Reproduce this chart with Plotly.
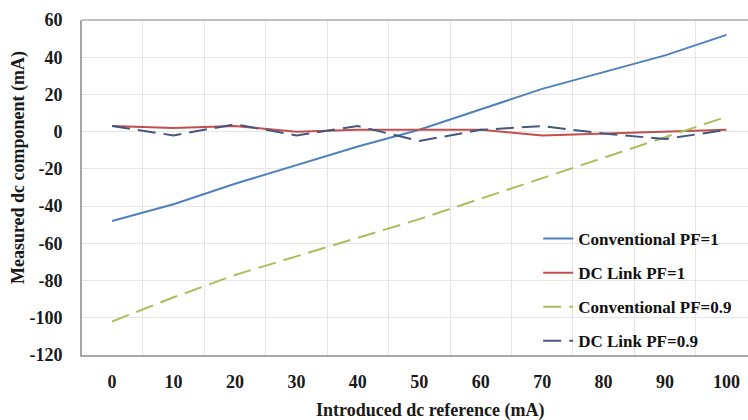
import plotly.graph_objects as go

# Introduced dc reference (mA)
x_ref = [0, 10, 20, 30, 40, 50, 60, 70, 80, 90, 100]
y_ticks = [-120, -100, -80, -60, -40, -20, 0, 20, 40, 60]

# Measured dc component (mA) for each configuration
conv_pf1 = [-48, -39, -28, -18, -8, 1, 12, 23, 32, 41, 52]
dclink_pf1 = [3, 2, 3, 0, 1, 1, 1, -2, -1, 0, 1]
conv_pf09 = [-102, -89, -77, -67, -57, -47, -36, -25, -14, -3, 8]
dclink_pf09 = [3, -2, 4, -2, 3, -5, 1, 3, -1, -4, 1]

series_names = ["Conventional PF=1", "DC Link PF=1", "Conventional PF=0.9", "DC Link PF=0.9"]
series_values = [conv_pf1, dclink_pf1, conv_pf09, dclink_pf09]
series_colors = ["#4F81BD", "#C0504D", "#A8BF5C", "#45577F"]
series_dash = ["solid", "solid", "dash", "dash"]

x_title = "Introduced dc reference (mA)"
y_title = "Measured dc component (mA)"

font_family = "Liberation Serif"
text_color = "#1A1A1A"

fig = go.Figure()
for i, (name, vals, col, dash) in enumerate(zip(series_names, series_values, series_colors, series_dash)):
    fig.add_trace(go.Scatter(
        x=x_ref, y=vals, name=name, mode="lines",
        legendgroup=f"g{i}",
        line=dict(color=col, width=2, dash=dash if dash == "solid" else "18px,8px"),
    ))

tick_font = dict(family=font_family, size=18, color=text_color, weight="bold")
title_font = dict(family=font_family, size=18, color=text_color, weight="bold")

fig.update_layout(
    width=748, height=420,
    margin=dict(l=82, r=0, t=20, b=65),
    paper_bgcolor="white", plot_bgcolor="white",
    font=dict(family=font_family, size=18, color=text_color),
    showlegend=True,
    legend=dict(
        x=0.685, y=0.40, xanchor="left", yanchor="top",
        bgcolor="rgba(0,0,0,0)",
        font=dict(family=font_family, size=17, color="#111111", weight="bold"),
        tracegroupgap=9, itemwidth=30,
    ),
    xaxis=dict(
        range=[-4.9, 103.5],
        tickmode="array", tickvals=x_ref, ticktext=[f"<b>{v}</b>" for v in x_ref],
        showgrid=False, zeroline=False,
        showline=True, linecolor="#A6A6A6", linewidth=2,
        ticks="", ticklabelstandoff=9,
        tickfont=tick_font,
        minor=dict(tickmode="linear", tick0=5, dtick=10, showgrid=True,
                   gridcolor="#E6E6E6", gridwidth=1, ticks=""),
    ),
    yaxis=dict(
        range=[-120, 60],
        tickmode="array", tickvals=y_ticks, ticktext=[f"<b>{v}</b>" for v in y_ticks],
        showgrid=True, gridcolor="#E6E6E6", gridwidth=1, zeroline=False,
        showline=True, linecolor="#A6A6A6", linewidth=2, mirror=False,
        ticks="", ticklabelstandoff=14,
        tickfont=tick_font,
    ),
)

# Axis titles
fig.add_annotation(text=x_title, xref="paper", yref="paper", x=0.5225, y=0,
                   yshift=-55, xanchor="center", yanchor="middle",
                   showarrow=False, font=title_font)
fig.add_annotation(text=y_title, xref="paper", yref="paper", x=0, y=0.558,
                   xshift=-64, xanchor="center", yanchor="middle", textangle=-90,
                   showarrow=False, font=title_font)

# Light frame line along the top of the plotting area
fig.add_shape(type="line", xref="paper", yref="paper", x0=0, x1=1, y0=1, y1=1,
              line=dict(color="#BFBFBF", width=2))

fig.write_html("out.html")
